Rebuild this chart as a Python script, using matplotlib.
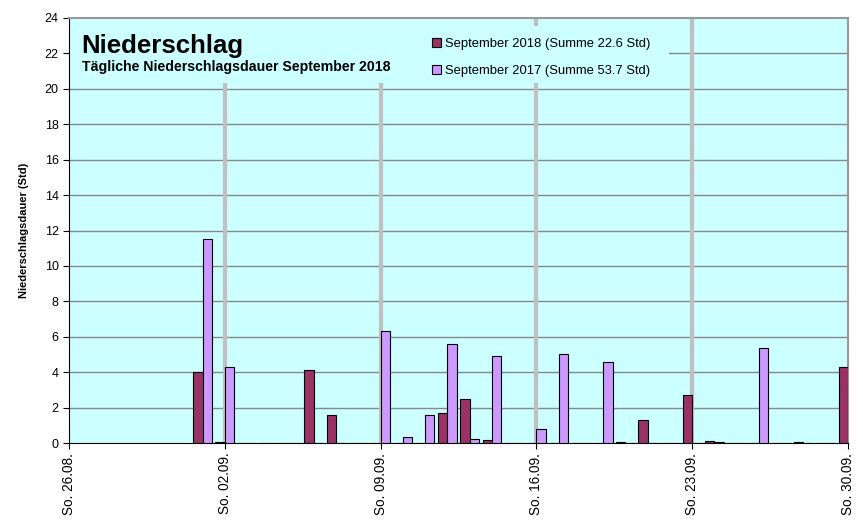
import matplotlib
matplotlib.use("Agg")
import matplotlib.pyplot as plt
from matplotlib.patches import Rectangle
import numpy as np

plt.rcParams['font.family'] = ['Liberation Sans', 'DejaVu Sans']

# days of September (1..30); 0 where no bar was drawn
days = np.arange(1, 31)
rain_2018 = [4.0, 0.05, 0, 0, 0, 4.1, 1.6, 0, 0, 0,
             0, 1.7, 2.5, 0.15, 0, 0, 0, 0, 0, 0.03,
             1.3, 0, 2.7, 0.1, 0, 0, 0, 0.03, 0, 4.3]
rain_2017 = [11.5, 4.3, 0, 0, 0, 0, 0, 0, 6.3, 0.35,
             1.6, 5.6, 0.25, 4.9, 0, 0.8, 5.0, 0, 4.6, 0,
             0, 0, 0, 0.05, 0, 5.35, 0, 0, 0, 3.1]
tick_days = [0, 7, 14, 21, 28, 35]
tick_labels = ["So. 26.08.", "So. 02.09.", "So. 09.09.", "So. 16.09.", "So. 23.09.", "So. 30.09."]
week_lines = [7, 14, 21, 28]

bg = "#ccffff"
fig = plt.figure(figsize=(8.63, 5.2), dpi=100)
ax = fig.add_axes([69 / 863, 77 / 520, 779 / 863, 425 / 520])
ax.set_facecolor(bg)

x = days + 5  # 26.08 is position 0, 01.09 is position 6
w = 0.42
ax.bar(x - w / 2, rain_2018, width=w, color="#993366", edgecolor="black", linewidth=0.8,
       label="September 2018 (Summe 22.6 Std)", zorder=3)
ax.bar(x + w / 2, rain_2017, width=w, color="#cc99ff", edgecolor="black", linewidth=0.8,
       label="September 2017 (Summe 53.7 Std)", zorder=3)

ax.set_xlim(0, 35)
ax.set_ylim(0, 24)
ax.set_yticks(np.arange(0, 25, 2))
ax.set_xticks(tick_days)
ax.set_xticklabels(tick_labels, rotation=90, fontsize=9.8)
ax.tick_params(axis='y', labelsize=9, length=4)
ax.tick_params(axis='x', length=4, pad=3)
ax.set_ylabel("Niederschlagsdauer (Std)", fontsize=8, fontweight="bold", labelpad=11)

for y in np.arange(2, 24, 2):
    ax.axhline(y, color="#888888", linewidth=1.0, zorder=1)
for d in week_lines:
    ax.axvline(d, color="#c0c0c0", linewidth=3, zorder=1)

for s in ["top", "right"]:
    ax.spines[s].set_color("#999999")
    ax.spines[s].set_linewidth(1.5)

# covers behind the title and the legend
cover_y = (443 - 83) / 425
ax.add_patch(Rectangle((0, cover_y), 0.45, 1 - cover_y, transform=ax.transAxes,
                       facecolor=bg, edgecolor="none", zorder=2))
ax.add_patch(Rectangle((0.45, cover_y), 0.77 - 0.45, (443 - 26) / 425 - cover_y,
                       transform=ax.transAxes, facecolor=bg, edgecolor="none", zorder=2))
ax.text(12.5 / 779, 1 - 35 / 425, "Niederschlag", transform=ax.transAxes,
        fontsize=18.6, fontweight="bold", va="baseline")
ax.text(12.5 / 779, 1 - 53 / 425, "Tägliche Niederschlagsdauer September 2018",
        transform=ax.transAxes, fontsize=10.15, fontweight="bold", va="baseline")

leg = ax.legend(loc="upper left", bbox_to_anchor=(355 / 779, 1 - 12 / 425), fontsize=9.35,
                frameon=False, handlelength=0.7, handleheight=0.7, handletextpad=0.3,
                labelspacing=1.14, borderpad=0.6, borderaxespad=0)
leg.set_zorder(4)

fig.savefig("out.png", dpi=100)
